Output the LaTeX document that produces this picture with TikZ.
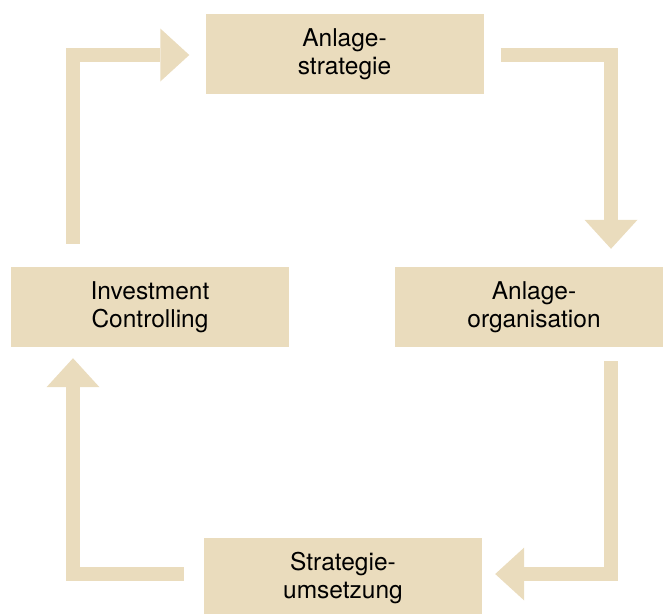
\documentclass[tikz,border=0pt]{standalone}
\usepackage{fontspec}
\setmainfont{TeX Gyre Heros}
\usepackage{tikz}
\usetikzlibrary{arrows.meta}
\definecolor{beige}{HTML}{EADCBD}

\begin{document}
\begin{tikzpicture}[x=1pt,y=-1pt,>={Triangle[width=53pt,length=29pt,line width=0pt]},thin]
                \tikzset{box/.style={fill=beige, minimum width=278pt, minimum height=80pt, align=center, font=\fontsize{24.5}{28.5}\selectfont}}
                \tikzset{flow/.style={->, draw=beige, line width=13.5pt}}
                \clip (0,0) rectangle (663,613);
                \node[box] (strat) at (344.5,54) {Anlage-\\strategie};
                \node[box] (org) at (534,307) {Anlage-\\organisation};
                \node[box] (umsetz) at (343,578) {Strategie-\\umsetzung};
                \node[box] (ctrl) at (150,307) {Investment\\Controlling};
                \coordinate (ne) at (611,55);
                \coordinate (se) at (611,574);
                \coordinate (sw) at (73,574);
                \coordinate (nw) at (73,55);
                \draw[flow, shorten <=17pt, shorten >=18pt] (strat.east |- ne) -| (org.north -| ne);
                \draw[flow, shorten <=14pt, shorten >=13pt] (org.south -| se) |- (umsetz.east |- se);
                \draw[flow, shorten <=20pt, shorten >=11pt] (umsetz.west |- sw) -| (ctrl.south -| sw);
                \draw[flow, shorten <=23pt, shorten >=16pt] (ctrl.north -| nw) |- (strat.west |- nw);
            \end{tikzpicture}
\end{document}
